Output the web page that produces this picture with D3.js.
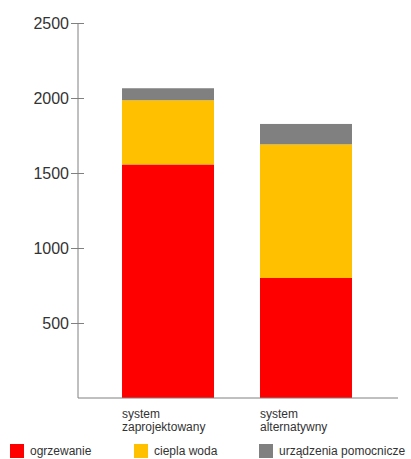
<!DOCTYPE html>
<html><head><meta charset="utf-8">
<script src="https://cdn.jsdelivr.net/npm/d3@7"></script>
<style>body{margin:0;background:#fff}svg{display:block}text{font-family:"Liberation Sans",Arial,sans-serif}</style>
</head><body><svg id="c" width="411" height="459"></svg>
<script>
const categories = [["system","zaprojektowany"],["system","alternatywny"]];
const seriesNames = ["ogrzewanie","ciepla woda","urządzenia pomocnicze"];
const ogrzewanie = [1557, 800];
const cieplaWoda = [428, 891];
const urzadzenia = [80, 136];
const colors = ["#ff0000","#ffc000","#808080"];
const yTicks = [500,1000,1500,2000,2500];

const svg = d3.select("#c");
const y = d3.scaleLinear().domain([0,2500]).range([398,23]);
const x = d3.scaleBand().domain([0,1]).range([78,396]).paddingInner(1/3).paddingOuter(0.319);

const rows = categories.map((c,i)=>({i, s0:ogrzewanie[i], s1:cieplaWoda[i], s2:urzadzenia[i]}));
const stack = d3.stack().keys(["s0","s1","s2"])(rows);

stack.forEach((layer,k)=>{
  svg.append("g").selectAll("rect").data(layer).join("rect")
    .attr("x",d=>x(d.data.i)).attr("width",x.bandwidth())
    .attr("y",d=>y(d[1])).attr("height",d=>y(d[0])-y(d[1]))
    .attr("fill",colors[k]);
});

const ax = svg.append("g").attr("transform","translate(78,0)")
  .call(d3.axisLeft(y).tickValues(yTicks).tickFormat(d3.format("d")).tickSize(7).tickPadding(2));
ax.select(".domain").remove();
ax.selectAll(".tick line").attr("x2",6).attr("x1",-7).attr("stroke","#808080");
ax.selectAll(".tick text").attr("font-size",16).attr("fill","#333").attr("font-family","Liberation Sans, Arial, sans-serif");
svg.append("line").attr("x1",78).attr("x2",78).attr("y1",y(2500)).attr("y2",398).attr("stroke","#808080");
svg.append("line").attr("x1",78).attr("x2",398).attr("y1",398).attr("y2",398).attr("stroke","#808080");

categories.forEach((c,i)=>{
  const t = svg.append("text").attr("x",x(i)).attr("y",418).attr("font-size",12).attr("fill","#333");
  c.forEach((line,j)=>t.append("tspan").attr("x",x(i)).attr("dy",j?13:0).text(line));
});

const legX = [10,134,259];
seriesNames.forEach((n,k)=>{
  svg.append("rect").attr("x",legX[k]).attr("y",444).attr("width",14).attr("height",14).attr("fill",colors[k]);
  svg.append("text").attr("x",legX[k]+20).attr("y",455).attr("font-size",12).attr("fill","#333").text(n);
});
</script></body></html>
